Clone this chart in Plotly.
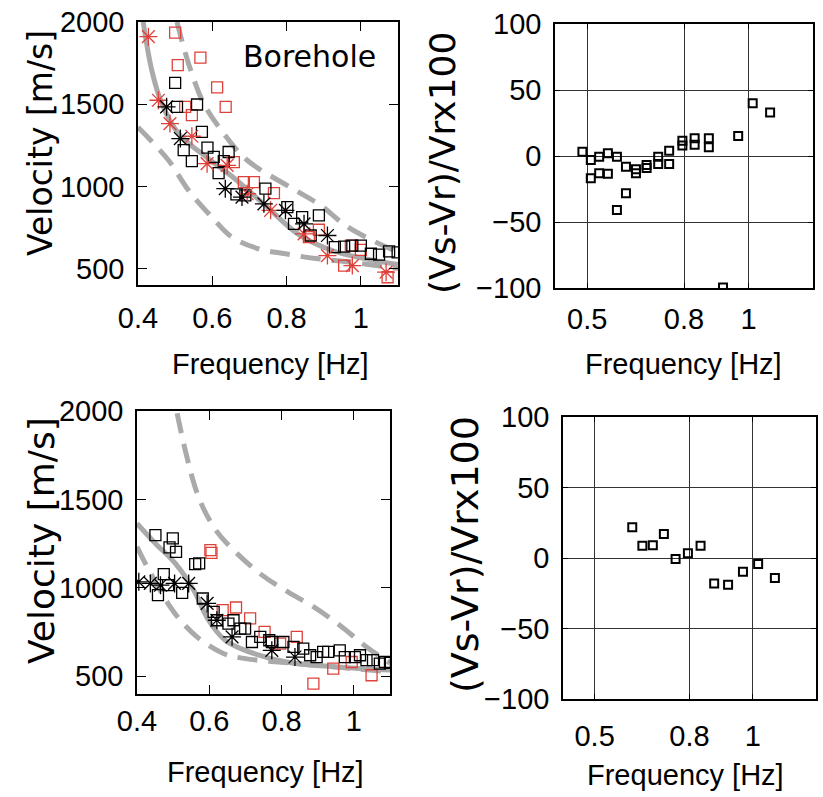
import plotly.graph_objects as go

W, H = 823, 797

# ---------------- Top-left (Borehole) ----------------
tl_blk_sq_f = [0.500, 0.505, 0.559, 0.572, 0.523, 0.545, 0.587, 0.604, 0.617, 0.644, 0.631, 0.665, 0.689,
               0.743, 0.802, 0.820, 0.842, 0.865, 0.887, 0.930, 0.955, 0.977, 1.000, 1.027, 1.049, 1.076, 1.099]
tl_blk_sq_v = [1630, 1484, 1498, 1331, 1220, 1154, 1236, 1179, 1081, 1209, 1154, 951, 945,
               986, 874, 772, 813, 701, 823, 630, 634, 640, 640, 590, 585, 605, 598]
tl_red_sq_f = [0.500, 0.507, 0.568, 0.613, 0.636, 0.527, 0.545, 0.658, 0.685, 0.712, 0.766, 0.887, 0.860,
               0.973, 1.000, 0.955, 1.072]
tl_red_sq_v = [1935, 1738, 1783, 1602, 1484, 1484, 1433, 1148, 1026, 1026, 959, 736, 691,
               640, 614, 518, 447]
tl_blk_ast_f = [0.477, 0.514, 0.635, 0.680, 0.739, 0.797, 0.847, 0.910]
tl_blk_ast_v = [1484, 1291, 986, 935, 894, 854, 772, 701]
tl_red_ast_f = [0.428, 0.455, 0.486, 0.545, 0.586, 0.640, 0.694, 0.757, 0.847, 0.910, 0.977, 1.068]
tl_red_ast_v = [1911, 1524, 1382, 1305, 1138, 1128, 955, 854, 711, 579, 518, 478]
tl_fit_f = [0.414, 0.437, 0.464, 0.509, 0.572, 0.655, 0.743, 0.833, 0.923, 1.014, 1.100]
tl_fit_v = [2000, 1707, 1504, 1321, 1199, 1057, 884, 707, 610, 559, 524]
tl_up_f = [0.505, 0.536, 0.577, 0.631, 0.694, 0.824, 0.892, 0.959, 1.031, 1.100]
tl_up_v = [2000, 1748, 1504, 1321, 1159, 976, 884, 762, 671, 600]
tl_lo_f = [0.400, 0.482, 0.536, 0.599, 0.653, 0.725, 0.797, 0.878, 0.950, 1.020, 1.100]
tl_lo_v = [1360, 1159, 976, 813, 691, 620, 590, 561, 545, 525, 500]

# ---------------- Top-right ----------------
tr_f = [0.485, 0.511, 0.511, 0.537, 0.537, 0.564, 0.564, 0.592, 0.592, 0.620, 0.620, 0.651, 0.651,
        0.684, 0.684, 0.720, 0.720, 0.754, 0.754, 0.795, 0.795, 0.833, 0.833, 0.877, 0.877, 0.921,
        0.968, 1.013, 1.067]
tr_d = [3.3, -3.0, -16.9, -0.5, -13.1, 2.0, -13.4, -0.5, -40.9, -8.1, -28.3, -10.0, -13.0,
        -6.8, -9.0, -0.5, -6.0, 4.0, -6.0, 11.6, 8.0, 13.4, 8.6, 13.4, 6.6, -99.7,
        15.2, 39.9, 33.0]

# ---------------- Bottom-left ----------------
bl_blk_sq_f = [0.451, 0.499, 0.490, 0.508, 0.561, 0.572, 0.474, 0.458, 0.486, 0.525, 0.582, 0.612, 0.621,
               0.653, 0.667, 0.686, 0.699, 0.718, 0.741, 0.766, 0.773, 0.805, 0.833, 0.860, 0.879, 0.897,
               0.915, 0.929, 0.961, 0.975, 1.003, 1.017, 1.035, 1.053, 1.072, 1.086, 1.100]
bl_blk_sq_v = [1298, 1280, 1229, 1204, 1134, 1138, 1078, 959, 1015, 972, 940, 864, 817,
               798, 817, 770, 770, 694, 723, 704, 694, 694, 666, 657, 619, 609,
               638, 638, 647, 609, 609, 619, 591, 591, 572, 581, 576]
bl_red_sq_f = [0.603, 0.606, 0.637, 0.674, 0.713, 0.753, 0.796, 0.842, 0.888, 0.943, 0.994, 1.049]
bl_red_sq_v = [1213, 1198, 874, 889, 827, 751, 685, 723, 459, 544, 581, 506]
bl_blk_ast_f = [0.405, 0.437, 0.465, 0.504, 0.543, 0.594, 0.621, 0.663, 0.773, 0.837]
bl_blk_ast_v = [1034, 1025, 1015, 1025, 1025, 912, 817, 723, 647, 609]
bl_fit_f = [0.400, 0.451, 0.506, 0.557, 0.598, 0.644, 0.699, 0.814, 0.952, 1.100]
bl_fit_v = [1364, 1251, 1138, 987, 817, 704, 647, 581, 553, 535]
bl_up_f = [0.511, 0.538, 0.570, 0.612, 0.658, 0.746, 0.822, 0.883, 0.960, 1.035, 1.100]
bl_up_v = [1987, 1741, 1515, 1345, 1232, 1072, 972, 900, 790, 666, 575]
bl_lo_f = [0.400, 0.428, 0.492, 0.520, 0.566, 0.639, 0.700, 0.842, 1.100]
bl_lo_v = [1232, 1119, 892, 817, 723, 629, 600, 572, 525]

# ---------------- Bottom-right ----------------
br_f = [0.619, 0.651, 0.684, 0.719, 0.756, 0.795, 0.835, 0.878, 0.922, 0.969, 1.017, 1.070]
br_d = [21.8, 8.7, 9.1, 17.0, -0.7, 3.3, 8.7, -18.0, -18.9, -9.7, -4.3, -14.2]

vel_ticks = [500, 1000, 1500, 2000]
freq_ticks_l = [0.4, 0.6, 0.8, 1.0]
freq_text_l = ["0.4", "0.6", "0.8", "1"]
res_ticks = [-100, -50, 0, 50, 100]
freq_ticks_r = [0.5, 0.8, 1.0]
freq_text_r = ["0.5", "0.8", "1"]

RED = "#e0403a"
GRAY = "#aaaaaa"
FONT = "Liberation Sans, Arial, sans-serif"
TFONT = "DejaVu Sans, Verdana, sans-serif"

fig = go.Figure()


def sq(x, y, color, xa, ya, size=11, lw=1.3):
    fig.add_trace(go.Scatter(x=x, y=y, mode="markers", xaxis=xa, yaxis=ya,
                             marker=dict(symbol="square-open", size=size, color=color,
                                         line=dict(width=lw, color=color))))


def ast(x, y, color, xa, ya):
    fig.add_trace(go.Scatter(x=x, y=y, mode="markers", xaxis=xa, yaxis=ya,
                             marker=dict(symbol="asterisk-open", size=15, color=color,
                                         line=dict(width=1.3, color=color))))


def curve(x, y, xa, ya, dash):
    fig.add_trace(go.Scatter(x=x, y=y, mode="lines", xaxis=xa, yaxis=ya,
                             line=dict(color=GRAY, width=5, dash=dash, shape="spline"),
                             cliponaxis=True))


DASH = "20px,11px"
# top-left
curve(tl_up_f, tl_up_v, "x", "y", DASH)
curve(tl_lo_f, tl_lo_v, "x", "y", DASH)
curve(tl_fit_f, tl_fit_v, "x", "y", "solid")
sq(tl_red_sq_f, tl_red_sq_v, RED, "x", "y")
sq(tl_blk_sq_f, tl_blk_sq_v, "black", "x", "y")
ast(tl_red_ast_f, tl_red_ast_v, RED, "x", "y")
ast(tl_blk_ast_f, tl_blk_ast_v, "black", "x", "y")

# top-right
sq(tr_f, tr_d, "black", "x2", "y2", size=8, lw=2)

# bottom-left
curve(bl_up_f, bl_up_v, "x3", "y3", DASH)
curve(bl_lo_f, bl_lo_v, "x3", "y3", DASH)
curve(bl_fit_f, bl_fit_v, "x3", "y3", "solid")
sq(bl_red_sq_f, bl_red_sq_v, RED, "x3", "y3")
sq(bl_blk_sq_f, bl_blk_sq_v, "black", "x3", "y3")
ast(bl_blk_ast_f, bl_blk_ast_v, "black", "x3", "y3")

# bottom-right
sq(br_f, br_d, "black", "x4", "y4", size=8, lw=2)


def px(x0, x1):
    return [x0 / W, x1 / W]


def py(y_top, y_bot):
    return [1 - y_bot / H, 1 - y_top / H]


tickfont = dict(family=FONT, size=29, color="black")
common = dict(showline=True, linecolor="black", linewidth=1.5, mirror="ticks",
              ticks="inside", tickcolor="black", zeroline=False, tickfont=tickfont)
GRID = "#333333"

fig.update_layout(
    width=W, height=H, margin=dict(l=0, r=0, t=0, b=0, autoexpand=False),
    paper_bgcolor="white", plot_bgcolor="white", showlegend=False,
    xaxis=dict(domain=px(138, 398), range=[0.4, 1.1], anchor="y", tickvals=freq_ticks_l,
               ticktext=freq_text_l, ticklen=9, showgrid=False, ticklabelstandoff=6, **common),
    yaxis=dict(domain=py(22, 285), range=[400, 2000], anchor="x", tickvals=vel_ticks,
               ticklen=9, showgrid=False, ticklabelstandoff=6, **common),
    xaxis2=dict(domain=px(555, 813), range=[0.4, 1.2], anchor="y2", tickvals=freq_ticks_r,
                ticktext=freq_text_r, ticklen=5, showgrid=True, gridcolor=GRID, gridwidth=1,
                ticklabelstandoff=4, **common),
    yaxis2=dict(domain=py(24, 288), range=[-100, 100], anchor="x2", tickvals=res_ticks,
                ticklen=5, showgrid=True, gridcolor=GRID, gridwidth=1, ticklabelstandoff=6, **common),
    xaxis3=dict(domain=px(137, 390), range=[0.4, 1.1], anchor="y3", tickvals=freq_ticks_l,
                ticktext=freq_text_l, ticklen=9, showgrid=False, ticklabelstandoff=0, **common),
    yaxis3=dict(domain=py(411, 694), range=[400, 2000], anchor="x3", tickvals=vel_ticks,
                ticklen=9, showgrid=False, ticklabelstandoff=6, **common),
    xaxis4=dict(domain=px(563, 816), range=[0.4, 1.2], anchor="y4", tickvals=freq_ticks_r,
                ticktext=freq_text_r, ticklen=5, showgrid=True, gridcolor=GRID, gridwidth=1,
                ticklabelstandoff=10, **common),
    yaxis4=dict(domain=py(417, 699), range=[-100, 100], anchor="x4", tickvals=res_ticks,
                ticklen=5, showgrid=True, gridcolor=GRID, gridwidth=1, ticklabelstandoff=6, **common),
)


def ann(text, x, y, size, angle=0, family=FONT):
    fig.add_annotation(text=text, x=x / W, y=1 - y / H, xref="paper", yref="paper",
                       showarrow=False, textangle=angle, xanchor="center", yanchor="middle",
                       font=dict(family=family, size=size, color="black"))


ann("Velocity [m/s]", 41, 143, 33, -90, TFONT)
ann("Velocity [m/s]", 41, 541, 36, -90, TFONT)
ann("(Vs-Vr)/Vrx100", 442, 163, 36, -90, TFONT)
ann("(Vs-Vr)/Vrx100", 465, 555, 38, -90, TFONT)
ann("Frequency [Hz]", 270, 364, 29)
ann("Frequency [Hz]", 683, 364, 29)
ann("Frequency [Hz]", 265, 772, 29)
ann("Frequency [Hz]", 685, 775, 29)
ann("Borehole", 309, 56, 30, 0, TFONT)

fig.write_html("out.html")
